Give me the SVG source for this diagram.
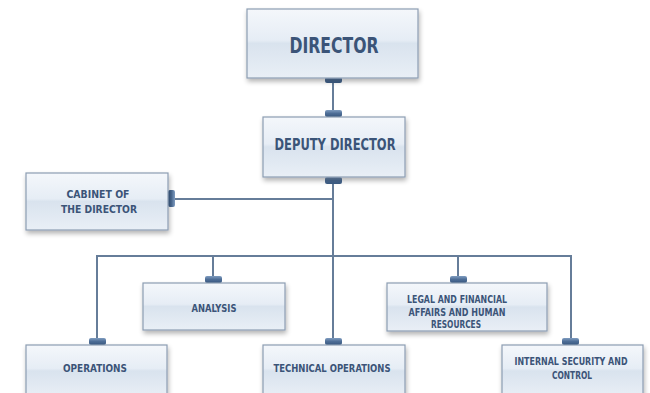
<svg xmlns="http://www.w3.org/2000/svg" width="650" height="393" viewBox="0 0 650 393">
  <defs>
    <linearGradient id="boxFill" x1="0" y1="0" x2="0" y2="1">
      <stop offset="0" stop-color="#f4f7fb"/>
      <stop offset="0.45" stop-color="#e6edf5"/>
      <stop offset="0.5" stop-color="#d9e3ee"/>
      <stop offset="1" stop-color="#e9eff6"/>
    </linearGradient>
    <linearGradient id="tabV" x1="0" y1="0" x2="0" y2="1">
      <stop offset="0" stop-color="#7f9cc0"/>
      <stop offset="0.5" stop-color="#4d6d96"/>
      <stop offset="1" stop-color="#3a5a82"/>
    </linearGradient>
    <linearGradient id="tabH" x1="0" y1="0" x2="1" y2="0">
      <stop offset="0" stop-color="#3a5a82"/>
      <stop offset="0.5" stop-color="#4d6d96"/>
      <stop offset="1" stop-color="#7f9cc0"/>
    </linearGradient>
    <filter id="shadow" x="-10%" y="-10%" width="120%" height="140%">
      <feGaussianBlur in="SourceAlpha" stdDeviation="2.5"/>
      <feOffset dx="1" dy="3" result="b"/>
      <feComponentTransfer><feFuncA type="linear" slope="0.3"/></feComponentTransfer>
      <feMerge><feMergeNode/><feMergeNode in="SourceGraphic"/></feMerge>
    </filter>
  </defs>
  <style>
    .box { fill: url(#boxFill); stroke: #8c9db2; stroke-width: 1.2; filter: url(#shadow); }
    .lbl { font-family: "DejaVu Sans", "Liberation Sans", sans-serif; font-stretch: condensed; font-weight: bold; fill: #3b5478; text-anchor: middle; }
    .big { font-size: 22px; }
    .mid { font-size: 16px; }
    .sml { font-size: 11px; }
    .xs { font-size: 10px; }
    .wire { fill: none; stroke: #667d99; stroke-width: 2; }
    .tab { fill: url(#tabV); }
    .tabh { fill: url(#tabH); }
  </style>

  <rect width="650" height="393" fill="#ffffff"/>

  <!-- connectors -->
  <g id="connectors">
    <line class="wire" x1="333" y1="80" x2="333" y2="112"/>
    <polyline class="wire" points="174,199 333,199"/>
    <line class="wire" x1="333" y1="180" x2="333" y2="342"/>
    <polyline class="wire" points="97,342 97,256 571,256 571,342"/>
    <line class="wire" x1="213" y1="256" x2="213" y2="280"/>
    <line class="wire" x1="458" y1="256" x2="458" y2="280"/>
    <!-- connection tabs -->
    <rect class="tab" x="325" y="77" width="17" height="6" rx="2"/>
    <rect class="tab" x="325" y="110" width="17" height="7" rx="2"/>
    <rect class="tab" x="325" y="177" width="17" height="7" rx="2"/>
    <rect class="tabh" x="168" y="190" width="7" height="17" rx="2"/>
    <rect class="tab" x="205" y="276" width="17" height="7" rx="2"/>
    <rect class="tab" x="450" y="276" width="17" height="7" rx="2"/>
    <rect class="tab" x="89" y="338" width="17" height="7" rx="2"/>
    <rect class="tab" x="325" y="338" width="17" height="7" rx="2"/>
    <rect class="tab" x="562" y="338" width="17" height="7" rx="2"/>
  </g>

  <g id="director">
    <rect class="box" x="247" y="9" width="171" height="69"/>
    <text class="lbl big" x="334" y="53" textLength="89" lengthAdjust="spacingAndGlyphs">DIRECTOR</text>
  </g>

  <g id="deputy-director">
    <rect class="box" x="263" y="117" width="142" height="60"/>
    <text class="lbl mid" x="335" y="150" textLength="121" lengthAdjust="spacingAndGlyphs">DEPUTY DIRECTOR</text>
  </g>

  <g id="cabinet">
    <rect class="box" x="26" y="173" width="142" height="57"/>
    <text class="lbl sml" x="98" y="198" textLength="63" lengthAdjust="spacingAndGlyphs">CABINET OF</text>
    <text class="lbl sml" x="99" y="213" textLength="76" lengthAdjust="spacingAndGlyphs">THE DIRECTOR</text>
  </g>

  <g id="analysis">
    <rect class="box" x="143" y="283" width="142" height="47"/>
    <text class="lbl sml" x="214" y="312" textLength="45" lengthAdjust="spacingAndGlyphs">ANALYSIS</text>
  </g>

  <g id="legal">
    <rect class="box" x="387" y="283" width="160" height="48"/>
    <text class="lbl sml" x="457" y="303" textLength="100" lengthAdjust="spacingAndGlyphs">LEGAL AND FINANCIAL</text>
    <text class="lbl sml" x="457" y="316" textLength="97" lengthAdjust="spacingAndGlyphs">AFFAIRS AND HUMAN</text>
    <text class="lbl sml" x="456" y="328" textLength="50" lengthAdjust="spacingAndGlyphs">RESOURCES</text>
  </g>

  <g id="operations">
    <rect class="box" x="26" y="345" width="141" height="52"/>
    <text class="lbl sml" x="95" y="372" textLength="64" lengthAdjust="spacingAndGlyphs">OPERATIONS</text>
  </g>

  <g id="technical-operations">
    <rect class="box" x="263" y="345" width="142" height="52"/>
    <text class="lbl sml" x="332" y="372" textLength="117" lengthAdjust="spacingAndGlyphs">TECHNICAL OPERATIONS</text>
  </g>

  <g id="internal-security">
    <rect class="box" x="502" y="345" width="141" height="52"/>
    <text class="lbl xs" x="571" y="365" textLength="113" lengthAdjust="spacingAndGlyphs">INTERNAL SECURITY AND</text>
    <text class="lbl sml" x="572" y="379" textLength="40" lengthAdjust="spacingAndGlyphs">CONTROL</text>
  </g>
</svg>
